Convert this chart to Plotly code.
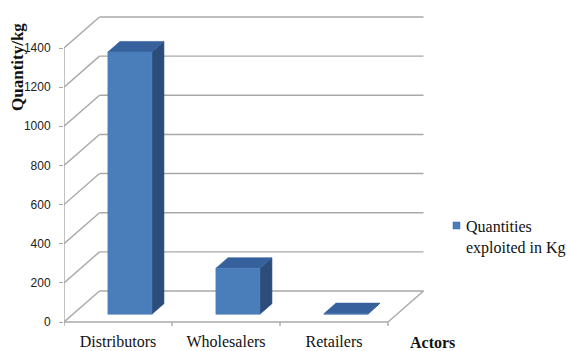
import plotly.graph_objects as go

# ---- data ----
categories = ["Distributors", "Wholesalers", "Retailers"]
quantities = [1340, 235, 3]
y_ticks = [0, 200, 400, 600, 800, 1000, 1200, 1400]
series_name = "Quantities exploited in Kg"
y_title = "Quantity/kg"
x_title = "Actors"

# ---- page / plot-area geometry (pixels) ----
W, H = 569, 351
PLOT_L, PLOT_R, PLOT_T, PLOT_B = 64, 430, 10, 330
ZERO_PX = 322            # pixel row of value 0 on the front plane
CAT_PX = 108             # width of one category slot
VAL_PER_PX = 1400 / 274  # value units per pixel

X_RANGE = [-0.5, -0.5 + (PLOT_R - PLOT_L) / CAT_PX]
Y_RANGE = [-(PLOT_B - ZERO_PX) * VAL_PER_PX, (ZERO_PX - PLOT_T) * VAL_PER_PX]

# oblique depth offsets for the pseudo-3D box
DEPTH_DX = 35.5 / CAT_PX
DEPTH_DY = 31 * VAL_PER_PX

# bar geometry (in category units / depth fraction)
BAR_W = 44 / CAT_PX
BAR_SHIFT = 3 / CAT_PX
Z0, Z1 = 0.25, 0.59

GRID = "#a8a8a8"
FRONT = "#4a7ebb"
TOP = "#37619c"
SIDE = "#2c4c7a"


def proj(x, v, z):
    return x + z * DEPTH_DX, v + z * DEPTH_DY


def px_x(p):
    return (p - PLOT_L) / (PLOT_R - PLOT_L)


def px_y(p):
    return (PLOT_B - p) / (PLOT_B - PLOT_T)


fig = go.Figure()


def add_lines(segments, color, width):
    xs, ys = [], []
    for (a, b) in segments:
        xs += [a[0], b[0], None]
        ys += [a[1], b[1], None]
    fig.add_trace(go.Scatter(x=xs, y=ys, mode="lines",
                             line=dict(color=color, width=width),
                             hoverinfo="skip", showlegend=False))


n = len(categories)
x_lo, x_hi = -0.5, n - 0.5
top_v = y_ticks[-1]

segs = []
# back wall gridlines
for v in y_ticks:
    segs.append((proj(x_lo, v, 1), proj(x_hi, v, 1)))
# side wall diagonals
for v in y_ticks:
    segs.append((proj(x_lo, v, 0), proj(x_lo, v, 1)))
# front vertical axis
segs.append((proj(x_lo, 0, 0), proj(x_lo, top_v, 0)))
# floor front and right edges
segs.append((proj(x_lo, 0, 0), proj(x_hi, 0, 0)))
segs.append((proj(x_hi, 0, 0), proj(x_hi, 0, 1)))
# category separators on the floor edge
for i in range(n + 1):
    xb = x_lo + i
    segs.append(((xb, 0), (xb, -4 * VAL_PER_PX)))
add_lines(segs, GRID, 1.4)


def add_poly(points, color):
    xs = [p[0] for p in points] + [points[0][0]]
    ys = [p[1] for p in points] + [points[0][1]]
    fig.add_trace(go.Scatter(x=xs, y=ys, mode="lines", fill="toself",
                             fillcolor=color, line=dict(color=color, width=0.6),
                             hoverinfo="skip", showlegend=False))


for i, q in enumerate(quantities):
    x0 = i - BAR_W / 2 + BAR_SHIFT
    x1 = x0 + BAR_W
    side = [proj(x1, 0, Z0), proj(x1, 0, Z1), proj(x1, q, Z1), proj(x1, q, Z0)]
    top = [proj(x0, q, Z0), proj(x1, q, Z0), proj(x1, q, Z1), proj(x0, q, Z1)]
    front = [proj(x0, 0, Z0), proj(x1, 0, Z0), proj(x1, q, Z0), proj(x0, q, Z0)]
    add_poly(side, SIDE)
    add_poly(top, TOP)
    add_poly(front, FRONT)

serif = "Liberation Serif"

fig.update_layout(
    width=W, height=H,
    margin=dict(l=PLOT_L, r=W - PLOT_R, t=PLOT_T, b=H - PLOT_B),
    paper_bgcolor="white", plot_bgcolor="white",
    showlegend=False,
    xaxis=dict(range=X_RANGE, tickvals=list(range(n)), ticktext=categories,
               automargin=False,
               showgrid=False, zeroline=False, showline=False,
               ticks="", ticklen=0,
               tickfont=dict(family=serif, size=16, color="#111")),
    yaxis=dict(range=Y_RANGE, tickvals=y_ticks, ticktext=[str(v) for v in y_ticks],
               automargin=False,
               showgrid=False, zeroline=False, showline=False,
               ticks="outside", ticklen=4, tickcolor=GRID,
               ticklabelstandoff=6,
               tickfont=dict(family="Liberation Sans", size=12, color="#222")),
    annotations=[
        dict(text="<b>" + y_title + "</b>", textangle=-90,
             x=px_x(17), y=px_y(67), xref="paper", yref="paper",
             xanchor="center", yanchor="middle",
             showarrow=False, font=dict(family=serif, size=17, color="#111")),
        dict(text="<b>" + x_title + "</b>",
             x=px_x(433), y=px_y(342), xref="paper", yref="paper",
             xanchor="center", yanchor="middle",
             showarrow=False, font=dict(family=serif, size=16, color="#111")),
        dict(text="Quantities<br>exploited in Kg", align="left",
             x=px_x(464), y=px_y(237), xref="paper", yref="paper",
             xanchor="left", yanchor="middle",
             showarrow=False, font=dict(family=serif, size=16, color="#111")),
    ],
    shapes=[
        dict(type="rect", xref="paper", yref="paper",
             x0=px_x(453), x1=px_x(460), y0=px_y(229), y1=px_y(222),
             fillcolor=FRONT, line=dict(color="#3a6aa8", width=0.5)),
    ],
)

fig.write_html("out.html")
